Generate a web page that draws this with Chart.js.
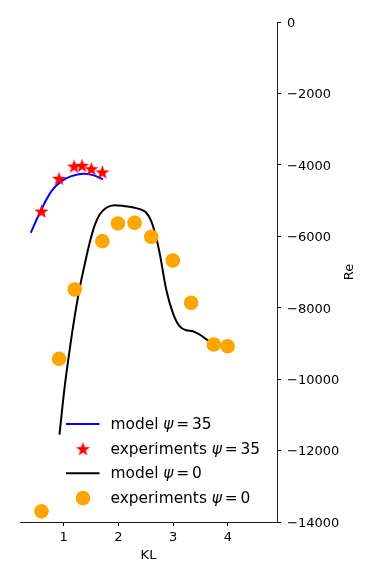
<!DOCTYPE html>
<html>
<head>
<meta charset="utf-8">
<script src="https://cdn.jsdelivr.net/npm/chart.js@4.4.1/dist/chart.umd.min.js"></script>
<style>
  html, body { margin: 0; padding: 0; background: #fff; }
  #wrap { width: 374px; height: 579px; position: relative; }
</style>
</head>
<body>
<div id="wrap"><canvas id="c" width="374" height="579"></canvas></div>
<script>
// ---- data ----
const modelPsi35X = [0.398, 0.562, 0.776, 0.958, 1.141, 1.352, 1.535, 1.717];
const modelPsi35Y = [-5901, -5341, -4735, -4455, -4315, -4248, -4287, -4408];

const expPsi35X = [0.593, 0.914, 1.189, 1.334, 1.505, 1.706];
const expPsi35Y = [-5296, -4380, -4035, -4015, -4108, -4200];

const modelPsi0X = [0.922, 1.018, 1.109, 1.201, 1.292, 1.383, 1.474, 1.566, 1.657, 1.779, 1.934, 2.113, 2.296, 2.420, 2.509, 2.600, 2.692, 2.760, 2.874, 2.995, 3.117, 3.239, 3.359, 3.482, 3.664, 3.847];
const modelPsi0Y = [-11553, -10199, -9171, -8238, -7442, -6789, -6181, -5696, -5388, -5200, -5128, -5156, -5200, -5256, -5341, -5576, -6041, -6520, -7490, -8143, -8518, -8630, -8658, -8750, -8938, -9059];

const expPsi0X = [0.593, 0.914, 1.201, 1.706, 1.991, 2.296, 2.600, 2.995, 3.330, 3.743, 3.998];
const expPsi0Y = [-13702, -9432, -7490, -6136, -5640, -5621, -6013, -6677, -7862, -9031, -9079];

const xTicks = [1, 2, 3, 4];
const yTicks = [0, -2000, -4000, -6000, -8000, -10000, -12000, -14000];
const legendLabels = ['model', 'experiments', 'model', 'experiments'];
const legendValues = ['35', '35', '0', '0'];
const xTitle = 'KL';
const yTitle = 'Re';

const pts = (xs, ys) => xs.map((x, i) => ({x: x, y: ys[i]}));

// filled star marker
function makeStar(R, color) {
  const r = R * 0.40;
  const size = Math.ceil(2 * R + 2);
  const cv = document.createElement('canvas');
  cv.width = size; cv.height = size;
  const g = cv.getContext('2d');
  g.translate(size / 2, size / 2 + R * 0.1);
  g.beginPath();
  for (let i = 0; i < 10; i++) {
    const ang = -Math.PI / 2 + i * Math.PI / 5;
    const rr = i % 2 === 0 ? R : r;
    const px = rr * Math.cos(ang), py = rr * Math.sin(ang);
    if (i === 0) g.moveTo(px, py); else g.lineTo(px, py);
  }
  g.closePath();
  g.fillStyle = color;
  g.fill();
  return cv;
}
const starImg = makeStar(7.4, '#ff0000');

const FONT = 'DejaVu Sans';

const customDraw = {
  id: 'customDraw',
  afterDraw(chart) {
    const ctx = chart.ctx;
    ctx.save();
    // y-axis title, reading bottom to top
    ctx.font = '13px "' + FONT + '"';
    ctx.fillStyle = '#000';
    ctx.textAlign = 'center';
    ctx.textBaseline = 'middle';
    ctx.translate(350, (chart.chartArea.top + chart.chartArea.bottom) / 2);
    ctx.rotate(-Math.PI / 2);
    ctx.fillText(yTitle, 0, 0);
    ctx.restore();

    // legend
    ctx.save();
    const rows = [424, 448.7, 473.3, 498];
    const ds = chart.data.datasets;
    const x0 = 66, x1 = 99.5, xm = 83;
    const tx = 110.5;
    const fs = 15.4;
    for (let i = 0; i < 4; i++) {
      const y = rows[i];
      const d = ds[i];
      if (i === 0 || i === 2) {
        ctx.strokeStyle = d.borderColor;
        ctx.lineWidth = d.borderWidth;
        ctx.beginPath();
        ctx.moveTo(x0, y);
        ctx.lineTo(x1, y);
        ctx.stroke();
      } else if (i === 1) {
        ctx.drawImage(starImg, xm - starImg.width / 2, y - starImg.height / 2);
      } else {
        ctx.fillStyle = d.backgroundColor;
        ctx.beginPath();
        ctx.arc(xm, y, 7.3, 0, Math.PI * 2);
        ctx.fill();
      }
      // text with math part
      ctx.fillStyle = '#000';
      ctx.textAlign = 'left';
      ctx.textBaseline = 'middle';
      const ty = y + 1;
      let x = tx;
      ctx.font = fs + 'px "' + FONT + '"';
      const pre = legendLabels[i] + ' ';
      ctx.fillText(pre, x, ty);
      x += ctx.measureText(pre).width;
      ctx.font = 'italic ' + fs + 'px "' + FONT + '"';
      ctx.fillText('\u03c8', x, ty);
      x += ctx.measureText('\u03c8').width + 2.8;
      ctx.font = fs + 'px "' + FONT + '"';
      ctx.fillText('=', x, ty);
      x += ctx.measureText('=').width + 2.8;
      ctx.fillText(legendValues[i], x, ty);
    }
    ctx.restore();
  }
};

const tickFont = {family: FONT, size: 13};

new Chart(document.getElementById('c'), {
  type: 'scatter',
  data: {
    datasets: [
      {
        label: 'model psi=35',
        data: pts(modelPsi35X, modelPsi35Y),
        showLine: true,
        borderColor: '#0000ff',
        backgroundColor: '#0000ff',
        borderWidth: 2,
        pointRadius: 0,
        tension: 0.4,
        order: 2
      },
      {
        label: 'experiments psi=35',
        data: pts(expPsi35X, expPsi35Y),
        pointStyle: starImg,
        pointRadius: 7,
        backgroundColor: '#ff0000',
        borderColor: '#ff0000',
        order: 0
      },
      {
        label: 'model psi=0',
        data: pts(modelPsi0X, modelPsi0Y),
        showLine: true,
        borderColor: '#000000',
        backgroundColor: '#000000',
        borderWidth: 2,
        pointRadius: 0,
        cubicInterpolationMode: 'monotone',
        order: 2
      },
      {
        label: 'experiments psi=0',
        data: pts(expPsi0X, expPsi0Y),
        pointStyle: 'circle',
        pointRadius: 7.3,
        borderWidth: 0,
        backgroundColor: '#ffa500',
        borderColor: '#ffa500',
        order: 1
      }
    ]
  },
  options: {
    responsive: false,
    animation: false,
    devicePixelRatio: 1,
    layout: {padding: {top: 22, left: 20, right: 0, bottom: 0}},
    plugins: {
      legend: {display: false},
      tooltip: {enabled: false}
    },
    scales: {
      x: {
        type: 'linear',
        position: 'bottom',
        min: 0.2,
        max: 4.9,
        afterBuildTicks: (s) => { s.ticks = xTicks.map(v => ({value: v})); },
        afterFit: (s) => { s.height = 57; },
        grid: {drawOnChartArea: false, drawTicks: true, tickLength: 4, color: '#000', tickWidth: 1},
        border: {display: true, color: '#222', width: 1},
        ticks: {font: tickFont, color: '#000', padding: 4, maxRotation: 0,
                callback: (v) => String(v)},
        title: {display: true, text: xTitle, font: {family: FONT, size: 13}, color: '#000',
                padding: {top: 0, bottom: 16}}
      },
      y: {
        type: 'linear',
        position: 'right',
        min: -14000,
        max: 0,
        afterBuildTicks: (s) => { s.ticks = yTicks.map(v => ({value: v})); },
        afterFit: (s) => { s.width = 97; },
        grid: {drawOnChartArea: false, drawTicks: true, tickLength: 4, color: '#000', tickWidth: 1},
        border: {display: true, color: '#222', width: 1},
        ticks: {font: tickFont, color: '#000', padding: 6, labelOffset: 1.5,
                callback: (v) => (v < 0 ? '\u2212' + String(-v) : String(v))}
      }
    }
  },
  plugins: [customDraw]
});
</script>
</body>
</html>
